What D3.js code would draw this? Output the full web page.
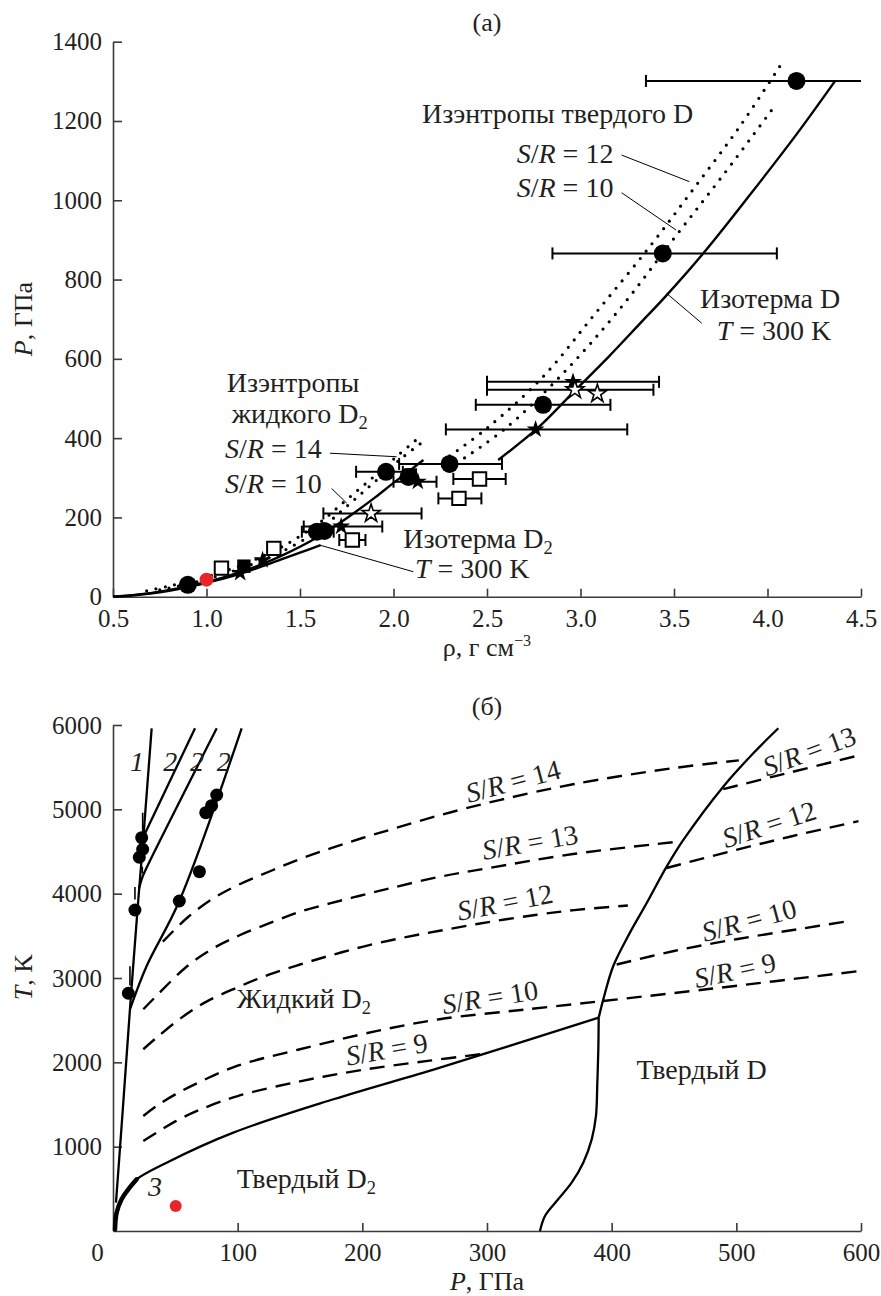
<!DOCTYPE html>
<html>
<head>
<meta charset="utf-8">
<script src="https://cdn.jsdelivr.net/npm/d3@7"></script>
<style>
  body { margin: 0; background: #fff; }
  svg text { font-family: "Liberation Serif", "Times New Roman", serif; fill: #231f20; }
</style>
</head>
<body>
<svg id="chart" width="881" height="1296"></svg>
<script>
// ---------- panel (a): density vs pressure ----------
const rhoTicks = [0.5, 1.0, 1.5, 2.0, 2.5, 3.0, 3.5, 4.0, 4.5];
const pTicks = [0, 200, 400, 600, 800, 1000, 1200, 1400];

// curves [rho, P]
const isoD = [[2.56, 345], [2.77, 425], [2.96, 515], [3.15, 605], [3.32, 690], [3.45, 755], [3.66, 868], [3.9, 1010], [4.15, 1163], [4.36, 1300]];
const isoD2 = [[0.5, 0], [0.6, 3], [0.7, 8], [0.8, 15], [0.9, 24], [1.0, 35], [1.1, 47], [1.2, 61], [1.3, 77], [1.4, 94], [1.5, 111], [1.61, 130]];
const isoD2b = [[0.5, 0], [0.7, 9], [0.9, 26], [1.0, 37], [1.1, 50], [1.2, 65], [1.3, 83], [1.4, 103], [1.5, 126], [1.6, 152], [1.7, 182], [1.8, 215], [1.9, 250], [2.0, 287], [2.1, 323], [2.16, 345]];
const liqS14 = [[0.68, 15], [0.8, 27], [1.0, 50], [1.2, 82], [1.4, 125], [1.6, 185], [1.75, 245], [1.9, 305], [2.02, 355], [2.12, 395]];
const liqS10 = [[0.75, 17], [0.9, 32], [1.0, 44], [1.2, 74], [1.4, 113], [1.6, 168], [1.75, 228], [1.9, 290], [2.05, 352], [2.15, 388]];
const solS12 = [[2.30, 355], [2.5, 425], [2.8, 555], [3.08, 715], [3.37, 883], [3.60, 1026], [3.85, 1185], [4.07, 1341]];
const solS10 = [[2.38, 350], [2.6, 425], [2.9, 560], [3.2, 720], [3.51, 910], [3.77, 1068], [4.02, 1226]];

// points [rho, P, errLo, errHi]
const filledCircles = [[0.90, 30], [1.59, 164, 1.51, 1.68], [1.63, 166], [1.96, 315, 1.80, 2.05], [2.08, 302], [2.30, 335, 2.03, 2.58], [2.80, 484, 2.44, 3.16], [3.44, 866, 2.85, 4.05], [4.155, 1301, 3.35, 4.6]];
const openSquares = [[1.08, 72], [1.36, 122], [1.78, 143, 1.71, 1.85], [2.35, 248, 2.24, 2.47], [2.46, 297, 2.32, 2.60]];
const filledSquares = [[1.20, 77], [2.09, 307]];
const filledStars = [[1.18, 60], [1.30, 92], [1.72, 177, 1.52, 1.94], [2.13, 290, 2.0, 2.23], [2.76, 422, 2.28, 3.25], [2.96, 542, 2.50, 3.42]];
const openStars = [[1.88, 210, 1.625, 2.15], [2.97, 522, 2.50, 3.39], [3.09, 512]];
const redTop = [[1.0, 43]];

// ---------- panel (б): pressure vs temperature ----------
const pTicksB = [0, 100, 200, 300, 400, 500, 600];
const tTicks = [1000, 2000, 3000, 4000, 5000, 6000];

const melt1 = [[2.4, 336], [8, 1470], [13.6, 2629], [20.3, 3930], [24.4, 4676], [31, 5961]];
const melt2a = [[24.4, 4676], [65.8, 5961]];
const melt2b = [[20.8, 4060], [24, 4210], [28, 4340], [83.2, 5961]];
const melt2c = [[13.6, 2629], [27, 3142], [53.2, 3913], [103.2, 5961]];
const curve3 = [[1.6, 20], [2.9, 217], [6.9, 376], [12.3, 494], [19, 613]];
const solidD2Edge = [[1.6, 20], [2.9, 217], [6.9, 376], [12.3, 494], [19, 613], [43, 810], [96.5, 1166], [176.8, 1562], [262.3, 1937], [389.6, 2530]];
const solidDEdge = [[342.5, 0], [346.5, 178], [355.9, 356], [367.9, 573], [377.2, 810], [384, 1087], [387.4, 1364], [388.5, 1759], [389.3, 2155], [389.6, 2530]];
const meltD = [[389.6, 2530], [393.3, 2747], [401.3, 3142], [414, 3520], [428, 3886], [444.1, 4320], [457.5, 4637], [489.5, 5269], [513.6, 5665], [533.7, 5961]];

const isS14 = [[40, 3431], [60, 3720], [80, 3940], [100, 4100], [125, 4260], [150, 4410], [175, 4540], [200, 4660], [225, 4770], [262, 4930], [310, 5110], [370, 5300], [450, 5490], [502, 5580]];
const isS13 = [[24.3, 2629], [35, 2790], [59, 3134], [80.5, 3353], [102, 3510], [128.6, 3668], [150, 3786], [174, 3885], [198, 3975], [222, 4063], [262, 4200], [300, 4300], [369, 4470], [455, 4619]];
const isS12 = [[24.3, 2155], [35, 2293], [55, 2530], [75, 2720], [100, 2890], [125, 3040], [150, 3160], [175, 3270], [200, 3370], [230, 3470], [262, 3560], [300, 3660], [340, 3750], [370, 3805], [413, 3860]];
const isS10 = [[24.3, 1364], [35, 1483], [50, 1620], [70, 1770], [100, 1960], [150, 2155], [211, 2370], [262, 2511], [330, 2625], [393, 2727]];
const isS9 = [[24.3, 1067], [35, 1166], [50, 1300], [70, 1440], [100, 1600], [150, 1775], [200, 1910], [254, 2020], [297, 2100]];
const solidS13 = [[489.5, 5240], [529.6, 5388], [597.8, 5638]];
const solidS12 = [[444, 4304], [500, 4520], [550, 4700], [598, 4860]];
const solidS10 = [[404, 3160], [450, 3320], [500, 3460], [550, 3580], [592, 3680]];
const solidS9 = [[393, 2727], [476, 2866], [599, 3083]];

const meltPoints = [[23, 4664], [23.8, 4527], [21.1, 4432], [17.6, 3806], [12.3, 2819], [53.2, 3913], [69.3, 4261], [74.4, 4960], [79.1, 5043], [83.2, 5170]];
const redBottom = [[50.3, 296]];
const upTicks = [[23.8, 4720, 4960], [23.5, 4240, 4320], [17.6, 3930, 4080], [13.6, 2910, 3140]];

// ---------- layout ----------
const svg = d3.select("#chart");
const ink = "#231f20";
const serif = '"Liberation Serif", "Times New Roman", serif';
const labelSize = 28;

const xTop = d3.scaleLinear().domain([0.5, 4.5]).range([113, 861]);
const yTop = d3.scaleLinear().domain([0, 1400]).range([596.7, 41.7]);
const xBot = d3.scaleLinear().domain([0, 600]).range([113, 861]);
const yBot = d3.scaleLinear().domain([0, 6000]).range([1231, 725]);

function rich(text, segs) {
  segs.forEach(([s, st]) => {
    const t = text.append("tspan").text(s);
    if (st === "i") t.attr("font-style", "italic");
    if (st === "sub") t.attr("font-size", "0.66em").attr("dy", "0.32em");
    if (st === "sup") t.attr("font-size", "0.62em").attr("dy", "-0.6em");
  });
  return text;
}

function styleAxis(g) {
  g.attr("font-family", serif).attr("font-size", 25);
  g.selectAll(".domain, .tick line").attr("stroke", "#3a3a3a").attr("stroke-width", 1.6);
  g.selectAll(".tick text").attr("fill", ink);
}

// panel (a) axes
svg.append("g").attr("transform", `translate(0,${yTop(0)})`)
  .call(d3.axisBottom(xTop).tickValues(rhoTicks).tickFormat(d3.format(".1f")).tickSizeInner(-8).tickSizeOuter(0).tickPadding(13))
  .call(styleAxis);
svg.append("g").attr("transform", `translate(${xTop(0.5)},0)`)
  .call(d3.axisLeft(yTop).tickValues(pTicks).tickFormat(d3.format("d")).tickSizeInner(-9).tickSizeOuter(0).tickPadding(11))
  .call(styleAxis);

// panel (б) axes
const xAxB = svg.append("g").attr("transform", `translate(0,${yBot(0)})`)
  .call(d3.axisBottom(xBot).tickValues(pTicksB).tickFormat(d3.format("d")).tickSizeInner(-8).tickSizeOuter(0).tickPadding(12))
  .call(styleAxis);
xAxB.selectAll(".tick").filter(d => d === 0).select("text").attr("dx", -16);
xAxB.selectAll(".tick").filter(d => d === 0).select("line").remove();
svg.append("g").attr("transform", `translate(${xBot(0)},0)`)
  .call(d3.axisLeft(yBot).tickValues(tTicks).tickFormat(d3.format("d")).tickSizeInner(-9).tickSizeOuter(0).tickPadding(11))
  .call(styleAxis);

// titles
const T = (x, y, anchor, size) => svg.append("text").attr("x", x).attr("y", y)
  .attr("text-anchor", anchor || "start").attr("font-size", size || labelSize);

T(487, 31, "middle", 26).text("(a)");
T(487, 715, "middle", 26).text("(б)");
rich(T(487, 656, "middle", 26), [["ρ, г см", ""], ["−3", "sup"]]);
rich(T(487, 1290, "middle", 26), [["P", "i"], [", ГПа", ""]]);
rich(svg.append("text").attr("transform", "translate(32,319) rotate(-90)").attr("text-anchor", "middle").attr("font-size", 26), [["P", "i"], [", ГПа", ""]]);
rich(svg.append("text").attr("transform", "translate(32,977) rotate(-90)").attr("text-anchor", "middle").attr("font-size", 26), [["T", "i"], [", K", ""]]);

// ---------- panel (a) marks ----------
svg.append("defs").append("clipPath").attr("id", "clipTop")
  .append("rect").attr("x", 113).attr("y", 20).attr("width", 748).attr("height", 580);
const gA = svg.append("g").attr("clip-path", "url(#clipTop)");

const lineA = d3.line().x(d => xTop(d[0])).y(d => yTop(d[1])).curve(d3.curveCatmullRom.alpha(0.5));
const straightA = d3.line().x(d => xTop(d[0])).y(d => yTop(d[1]));

[isoD, isoD2, isoD2b].forEach(c => gA.append("path").attr("d", lineA(c))
  .attr("fill", "none").attr("stroke", "#000").attr("stroke-width", 2.4));
[liqS14, liqS10, solS12, solS10].forEach(c => gA.append("path").attr("d", lineA(c))
  .attr("fill", "none").attr("stroke", "#000").attr("stroke-width", 3.2)
  .attr("stroke-dasharray", "0 9.5").attr("stroke-linecap", "round"));

// leader lines (a)
const leadersA = [
  [[3.220, 1114], [3.582, 1047]],
  [[3.220, 1019], [3.511, 925]],
  [[3.461, 765], [3.648, 690]],
  [[1.660, 362], [2.017, 353]],
  [[1.669, 273], [1.750, 236]],
  [[1.607, 130], [2.106, 63]]
];
leadersA.forEach(l => gA.append("path").attr("d", straightA(l))
  .attr("stroke", "#000").attr("stroke-width", 1));

// error bars
const withErr = [...filledCircles, ...openSquares, ...filledStars, ...openStars].filter(d => d.length > 2);
withErr.forEach(d => {
  const y = yTop(d[1]), x0 = xTop(d[2]), x1 = xTop(d[3]);
  gA.append("line").attr("x1", x0).attr("x2", x1).attr("y1", y).attr("y2", y)
    .attr("stroke", "#000").attr("stroke-width", 2);
  [d[2], d[3]].filter(v => v <= 4.5).forEach(v => gA.append("line")
    .attr("x1", xTop(v)).attr("x2", xTop(v)).attr("y1", y - 6).attr("y2", y + 6)
    .attr("stroke", "#000").attr("stroke-width", 2));
});

const star = d3.symbol().type(d3.symbolStar).size(100);
const square = d3.symbol().type(d3.symbolSquare).size(180);

gA.selectAll(".sqo").data(openSquares).join("path")
  .attr("transform", d => `translate(${xTop(d[0])},${yTop(d[1])})`)
  .attr("d", square).attr("fill", "#fff").attr("stroke", "#000").attr("stroke-width", 2);
gA.selectAll(".sqf").data(filledSquares).join("path")
  .attr("transform", d => `translate(${xTop(d[0])},${yTop(d[1])})`)
  .attr("d", square).attr("fill", "#000");
gA.selectAll(".cf").data(filledCircles).join("circle")
  .attr("cx", d => xTop(d[0])).attr("cy", d => yTop(d[1])).attr("r", 9).attr("fill", "#000");
gA.selectAll(".stf").data(filledStars).join("path")
  .attr("transform", d => `translate(${xTop(d[0])},${yTop(d[1])})`)
  .attr("d", star).attr("fill", "#000");
gA.selectAll(".sto").data(openStars).join("path")
  .attr("transform", d => `translate(${xTop(d[0])},${yTop(d[1])})`)
  .attr("d", star).attr("fill", "#fff").attr("stroke", "#000").attr("stroke-width", 1.6);
gA.selectAll(".red").data(redTop).join("circle")
  .attr("cx", d => xTop(d[0])).attr("cy", d => yTop(d[1])).attr("r", 7).attr("fill", "#e8262a");

// labels (a)
const labelsA = [
  [2.152, 1195, [["Изэнтропы твердого D", ""]]],
  [2.659, 1094, [["S", "i"], ["/", ""], ["R", "i"], [" = 12", ""]]],
  [2.659, 1009, [["S", "i"], ["/", ""], ["R", "i"], [" = 10", ""]]],
  [3.639, 728, [["Изотерма D", ""]]],
  [3.728, 648, [["T", "i"], [" = 300 K", ""]]],
  [1.108, 517, [["Изэнтропы", ""]]],
  [1.135, 437, [["жидкого D", ""], ["2", "sub"]]],
  [1.099, 349, [["S", "i"], ["/", ""], ["R", "i"], [" = 14", ""]]],
  [1.099, 262, [["S", "i"], ["/", ""], ["R", "i"], [" = 10", ""]]],
  [2.052, 122, [["Изотерма D", ""], ["2", "sub"]]],
  [2.115, 46, [["T", "i"], [" = 300 K", ""]]]
];
labelsA.forEach(([x, y, segs]) => rich(T(xTop(x), yTop(y), "start"), segs));

// ---------- panel (б) marks ----------
const lineB = d3.line().x(d => xBot(d[0])).y(d => yBot(d[1])).curve(d3.curveCatmullRom.alpha(0.5));
const gB = svg.append("g");

[isS14, isS13, isS12, isS10, isS9, solidS13, solidS12, solidS10, solidS9].forEach(c => gB.append("path")
  .attr("d", lineB(c)).attr("fill", "none").attr("stroke", "#000").attr("stroke-width", 2.4)
  .attr("stroke-dasharray", "15 9"));
[melt1, melt2a, melt2b, melt2c, solidD2Edge, solidDEdge, meltD].forEach(c => gB.append("path")
  .attr("d", lineB(c)).attr("fill", "none").attr("stroke", "#000").attr("stroke-width", 2.3));
gB.append("path").attr("d", lineB(curve3)).attr("fill", "none").attr("stroke", "#000")
  .attr("stroke-width", 4.5).attr("stroke-linecap", "round");

upTicks.forEach(d => gB.append("line").attr("x1", xBot(d[0])).attr("x2", xBot(d[0]))
  .attr("y1", yBot(d[1])).attr("y2", yBot(d[2])).attr("stroke", "#000").attr("stroke-width", 1.6));

gB.selectAll(".mp").data(meltPoints).join("circle")
  .attr("cx", d => xBot(d[0])).attr("cy", d => yBot(d[1])).attr("r", 6.5).attr("fill", "#000");
gB.selectAll(".rb").data(redBottom).join("circle")
  .attr("cx", d => xBot(d[0])).attr("cy", d => yBot(d[1])).attr("r", 6).attr("fill", "#e8262a");

const labelsB = [
  [13.6, 5455, [["1", "i"]]],
  [40.3, 5455, [["2", "i"]]],
  [61.8, 5455, [["2", "i"]]],
  [83.2, 5455, [["2", "i"]]],
  [99.2, 2648, [["Жидкий D", ""], ["2", "sub"]]],
  [99.2, 513, [["Твердый D", ""], ["2", "sub"]]],
  [420, 1799, [["Твердый D", ""]]],
  [28.1, 415, [["3", "i"]]]
];
labelsB.forEach(([x, y, segs]) => rich(T(xBot(x), yBot(y), "start"), segs));

// rotated S/R labels [P, T, angle, value]
const srLabels = [
  [320.8, 5337, -15, "14"], [334.5, 4613, -10, "13"], [314.4, 3901, -11, "12"],
  [302.4, 2775, -9, "10"], [219.5, 2158, -10, "9"],
  [558.3, 5692, -20, "13"], [526.2, 4826, -18, "12"], [510.1, 3688, -15, "10"], [498.9, 3095, -12, "9"]
];
srLabels.forEach(([p, t, a, v]) => rich(svg.append("text")
  .attr("transform", `translate(${xBot(p)},${yBot(t)}) rotate(${a})`)
  .attr("text-anchor", "middle").attr("dy", "0.35em").attr("font-size", labelSize),
  [["S", "i"], ["/", ""], ["R", "i"], [" = " + v, ""]]));
</script>
</body>
</html>
